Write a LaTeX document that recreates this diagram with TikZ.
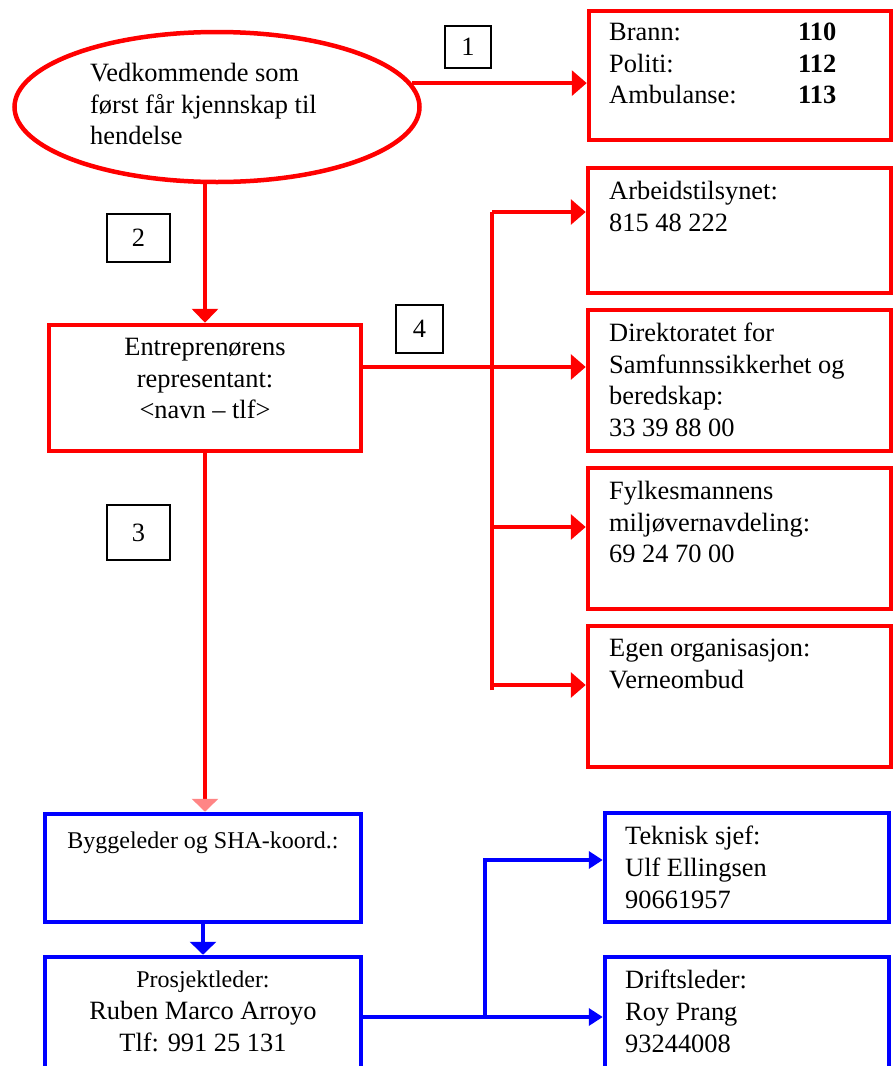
\documentclass[tikz,border=0pt]{standalone}
\usepackage{fontspec}
\setmainfont{Liberation Serif}
\usetikzlibrary{arrows.meta,shapes.geometric}
\newcommand\mainsz{\fontsize{26.4}{31.6}\selectfont}
\newcommand\smallsz{\fontsize{24}{31.6}\selectfont}
\tikzset{
  rbox/.style={draw=red, line width=4.5pt, rectangle, inner sep=0pt},
  bbox/.style={draw=blue, line width=4.5pt, rectangle, inner sep=0pt},
  numbox/.style={draw=black, line width=1.5pt, rectangle, inner sep=0pt, font=\mainsz},
  txt/.style={inner sep=0pt, align=left, anchor=north west, font=\mainsz,
    execute at begin node={\rule{0pt}{22pt}}},
  ctxt/.style={inner sep=0pt, align=center, anchor=north, font=\mainsz,
    execute at begin node={\rule{0pt}{22pt}}},
  rline/.style={draw=red, line width=3.5pt},
  bline/.style={draw=blue, line width=3.5pt},
  rright/.style={rline, -{Triangle[length=15pt,width=25pt]}},
  rdown/.style={rline, -{Triangle[length=14pt,width=26pt]}},
  pinkdown/.style={rline, -{Triangle[length=13pt,width=26pt,color=red!48]}},
  bdown/.style={bline, -{Triangle[length=13pt,width=26pt]}},
  bright/.style={bline, -{Triangle[length=14pt,width=17pt]}},
}
\begin{document}
\begin{tikzpicture}[x=1pt,y=-1pt]
\useasboundingbox (0,0) rectangle (896,1066);
\clip (0,0) rectangle (896,1066);
\fill[white] (0,0) rectangle (896,1066);

% first person aware of the incident
\node[ellipse, draw=red, line width=4.5pt, inner sep=0pt,
      minimum width=405pt, minimum height=150pt] (ell) at (217,107) {};
\node[txt] (elltxt) at (90,63) {Vedkommende som\\først får kjennskap til\\hendelse};

% emergency numbers
\node[rbox, minimum width=302pt, minimum height=129pt] (brann) at (740,75.5) {};
\node[txt] (brannlbl) at (609,23) {Brann:\\Politi:\\Ambulanse:};
\node[txt] (brannnum) at (798,23) {\textbf{110}\\\textbf{112}\\\textbf{113}};

% authorities
\node[rbox, minimum width=303pt, minimum height=125pt] (arb) at (739.5,230.5) {};
\node[txt] (arbtxt) at (609,181) {Arbeidstilsynet:\\815 48 222};
\node[rbox, minimum width=303pt, minimum height=141pt] (dir) at (739.5,380.5) {};
\node[txt] (dirtxt) at (609,323) {Direktoratet for\\Samfunnssikkerhet og\\beredskap:\\33 39 88 00};
\node[rbox, minimum width=303pt, minimum height=141pt] (fyl) at (739.5,538.5) {};
\node[txt] (fyltxt) at (609,481) {Fylkesmannens\\miljøvernavdeling:\\69 24 70 00};
\node[rbox, minimum width=303pt, minimum height=141pt] (egen) at (739.5,696.5) {};
\node[txt] (egentxt) at (609,639) {Egen organisasjon:\\Verneombud};

% contractor's representative
\node[rbox, minimum width=312pt, minimum height=126pt] (ent) at (205,388) {};
\node[ctxt] (enttxt) at (205,338) {Entreprenørens\\representant:\\<navn – tlf>};

% client side
\node[bbox, minimum width=316pt, minimum height=108pt] (bygg) at (203,868) {};
\node[ctxt, font=\smallsz] (byggtxt) at (203,826) {Byggeleder og SHA-koord.:};
\node[bbox, minimum width=316pt, minimum height=143pt] (pros) at (203,1028.5) {};
\node[ctxt] (prostxt) at (203,971) {{\smallsz Prosjektleder:}\\Ruben Marco Arroyo\\Tlf: 991 25 131};
\node[bbox, minimum width=284pt, minimum height=109pt] (tek) at (747,867.5) {};
\node[txt] (tektxt) at (625,826) {Teknisk sjef:\\Ulf Ellingsen\\90661957};
\node[bbox, minimum width=284pt, minimum height=143pt] (drift) at (747,1028.5) {};
\node[txt] (drifttxt) at (625,970) {Driftsleder:\\Roy Prang\\93244008};

% step numbers
\node[numbox, minimum width=46pt, minimum height=42pt] (n1) at (468,47) {1};
\node[numbox, minimum width=63pt, minimum height=48pt] (n2) at (138.5,238) {2};
\node[numbox, minimum width=47pt, minimum height=48pt] (n4) at (419.5,329) {4};
\node[numbox, minimum width=63pt, minimum height=55pt] (n3) at (138.5,532.5) {3};

% red connectors
\draw[rright] (ell.7) -- (ell.7 -| brann.west);
\draw[rdown] (ell.south -| ent.north) -- (ent.north);
\draw[pinkdown] (ent.south) -- (ent.south |- bygg.north);
\coordinate (r4) at (0,367);
\draw[rright] (ent.east |- r4) -- (dir.west |- r4);
\coordinate (busT) at (492,212);
\coordinate (busF) at (492,527);
\coordinate (busE) at (492,685);
\coordinate (busB) at (492,690);
\draw[rline] (busB) -- (busT);
\draw[rright] (busT) -- (busT -| arb.west);
\draw[rright] (busF) -- (busF -| fyl.west);
\draw[rright] (busE) -- (busE -| egen.west);

% blue connectors
\draw[bdown] (bygg.south) -- (pros.north);
\coordinate (bb) at (485,1017);
\coordinate (bt) at (485,860);
\draw[bright] (pros.east |- bb) -- (drift.west |- bb);
\draw[bright] (bb) -- (bt) -- (bt -| tek.west);
\end{tikzpicture}
\end{document}
